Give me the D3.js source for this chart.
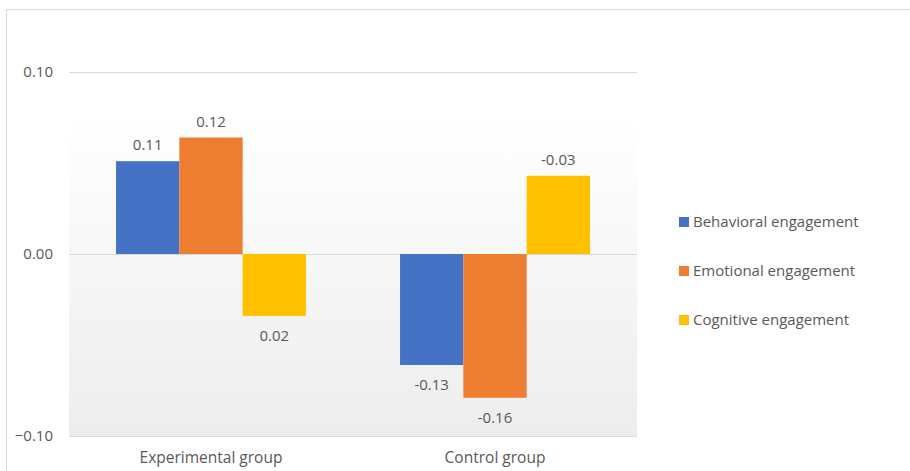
<!DOCTYPE html>
<html>
<head>
<meta charset="utf-8">
<script src="https://cdn.jsdelivr.net/npm/d3@7"></script>
<style>
    body { margin: 0; background: #fff; }
    text { font-family: "Open Sans", Lato, sans-serif; fill: #595959; }
</style>
</head>
<body>
<div id="chart"></div>
<script>
// Data (bar heights and the printed labels disagree in the original)
const groups = ["Experimental group", "Control group"];
const seriesNames = ["Behavioral engagement", "Emotional engagement", "Cognitive engagement"];
const barValues = [
    [0.051, 0.064, -0.034],
    [-0.061, -0.079, 0.043]
];
const labelTexts = [
    ["0.11", "0.12", "0.02"],
    ["-0.13", "-0.16", "-0.03"]
];
const yTicks = [-0.1, 0, 0.1];
const colors = ["#4472c4", "#ed7d31", "#ffc000"];

const width = 910, height = 471;
const margin = {top: 72, left: 69, right: 273, bottom: 35};
const plotRight = width - margin.right;
const plotBottom = height - margin.bottom;

let svg = d3.select("#chart").append("svg")
    .attr("width", width)
    .attr("height", height);

// background gradient of the plot area
let defs = svg.append("defs");
let grad = defs.append("linearGradient")
    .attr("id", "bg").attr("x1", 0).attr("y1", 0).attr("x2", 0).attr("y2", 1);
grad.append("stop").attr("offset", "0%").attr("stop-color", "#ffffff");
grad.append("stop").attr("offset", "12%").attr("stop-color", "#ffffff");
grad.append("stop").attr("offset", "100%").attr("stop-color", "#ededed");

// chart border
svg.append("rect")
    .attr("x", 6.5).attr("y", 9.5)
    .attr("width", width).attr("height", height)
    .attr("fill", "none")
    .attr("stroke", "#d9d9d9");

// scales
let y = d3.scaleLinear().domain([-0.1, 0.1]).range([plotBottom, margin.top]);
let x0 = d3.scaleBand().domain(groups).range([margin.left, plotRight]).padding(0);
let x1 = d3.scaleBand().domain(seriesNames).range([0, x0.bandwidth()])
    .paddingInner(0).paddingOuter(0.743);

svg.append("rect")
    .attr("x", margin.left).attr("y", margin.top)
    .attr("width", plotRight - margin.left).attr("height", plotBottom - margin.top)
    .attr("fill", "url(#bg)");

// gridlines
svg.append("g").selectAll("line")
    .data(yTicks).enter().append("line")
    .attr("x1", margin.left).attr("x2", plotRight)
    .attr("y1", d => Math.round(y(d)) + 0.5).attr("y2", d => Math.round(y(d)) + 0.5)
    .attr("stroke", "#d9d9d9");

// y axis labels
let yAxis = d3.axisLeft(y).tickValues(yTicks).tickFormat(d3.format(".2f")).tickSize(0).tickPadding(0);
svg.append("g")
    .attr("transform", `translate(${margin.left - 16}, 0)`)
    .call(yAxis)
    .call(g => g.select(".domain").remove())
    .selectAll("text")
    .attr("font-size", 15)
    .attr("font-family", null);

// x axis labels
let xAxis = d3.axisBottom(x0).tickSize(0).tickPadding(0);
svg.append("g")
    .attr("transform", `translate(0, ${plotBottom + 16})`)
    .call(xAxis)
    .call(g => g.select(".domain").remove())
    .selectAll("text")
    .attr("font-size", 15.5)
    .attr("font-family", null);

// bars
groups.forEach((grp, gi) => {
    let g = svg.append("g").attr("transform", `translate(${x0(grp)}, 0)`);
    seriesNames.forEach((s, si) => {
        let v = barValues[gi][si];
        g.append("rect")
            .attr("x", x1(s))
            .attr("y", y(Math.max(0, v)))
            .attr("width", x1.bandwidth())
            .attr("height", Math.abs(y(v) - y(0)))
            .attr("fill", colors[si]);
        g.append("text")
            .attr("x", x1(s) + x1.bandwidth() / 2)
            .attr("y", v >= 0 ? y(v) - 11 : y(v) + 25)
            .attr("text-anchor", "middle")
            .attr("font-size", 15)
            .text(labelTexts[gi][si]);
    });
});

// legend
let legend = svg.append("g").selectAll("g")
    .data(seriesNames).enter().append("g")
    .attr("transform", (d, i) => `translate(679, ${222 + i * 49})`);
legend.append("rect")
    .attr("x", 0).attr("y", -5)
    .attr("width", 10).attr("height", 10)
    .attr("fill", (d, i) => colors[i]);
legend.append("text")
    .attr("x", 14).attr("y", 5)
    .attr("font-size", 15)
    .text(d => d);
</script>
</body>
</html>
